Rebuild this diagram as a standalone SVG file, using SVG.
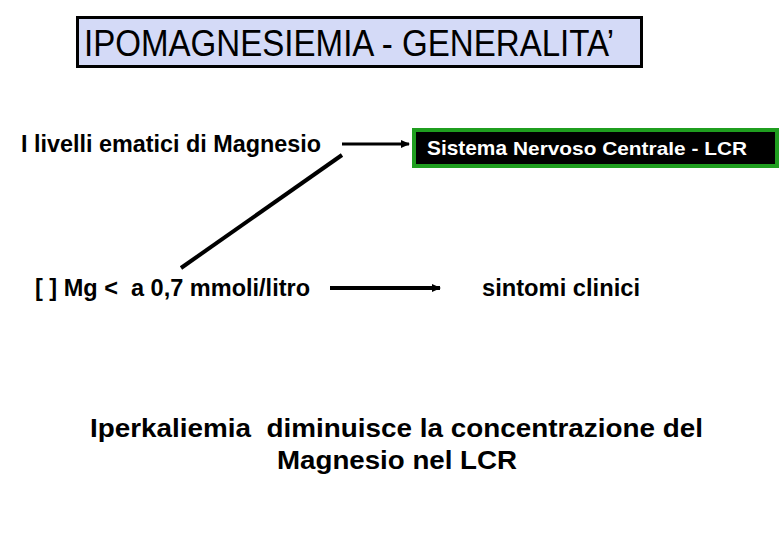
<svg xmlns="http://www.w3.org/2000/svg" width="780" height="540" viewBox="0 0 780 540">
<defs>
<style>
text{font-family:"Liberation Sans",Arial,sans-serif;fill:#000;white-space:pre}
.b{font-weight:bold}
.lbl{font-size:23px}
.conn{stroke:#000;fill:none}
</style>
<marker id="ah" markerUnits="userSpaceOnUse" markerWidth="10" markerHeight="10" refX="8" refY="5" orient="auto">
<path d="M0,1 L9,5 L0,9 Z" fill="#000"/>
</marker>
</defs>
<rect width="780" height="540" fill="#fff"/>
<g id="title">
<rect x="77.5" y="17.5" width="564" height="49" fill="#d4daf7" stroke="#000" stroke-width="3"/>
<text x="84" y="56" font-size="36" textLength="530" lengthAdjust="spacingAndGlyphs">IPOMAGNESIEMIA - GENERALITA’</text>
</g>
<g id="livelli">
<text class="b lbl" x="21" y="152" textLength="300" lengthAdjust="spacingAndGlyphs">I livelli ematici di Magnesio</text>
</g>
<g id="snc">
<rect x="414" y="130" width="363" height="36" fill="#000" stroke="#1f9e1f" stroke-width="4"/>
<text class="b" x="427" y="155" font-size="21" style="fill:#fff" textLength="80" lengthAdjust="spacingAndGlyphs">Sistema</text>
<text class="b" x="513" y="155" font-size="19" style="fill:#fff" textLength="234" lengthAdjust="spacingAndGlyphs">Nervoso Centrale - LCR</text>
</g>
<g id="mg">
<text class="b lbl" x="35" y="296" textLength="275" lengthAdjust="spacingAndGlyphs">[ ] Mg &lt;  a 0,7 mmoli/litro</text>
</g>
<g id="sintomi">
<text class="b lbl" x="482" y="296" textLength="158" lengthAdjust="spacingAndGlyphs">sintomi clinici</text>
</g>
<g id="iperkaliemia">
<text class="b" x="90" y="437" font-size="26" textLength="613" lengthAdjust="spacingAndGlyphs">Iperkaliemia  diminuisce la concentrazione del</text>
<text class="b" x="277" y="469" font-size="26" textLength="240" lengthAdjust="spacingAndGlyphs">Magnesio nel LCR</text>
</g>
<g id="connectors">
<line class="conn" x1="342" y1="144" x2="409" y2="144" stroke-width="3" marker-end="url(#ah)"/>
<line class="conn" x1="342" y1="155" x2="181" y2="268" stroke-width="4"/>
<line class="conn" x1="330" y1="288" x2="440" y2="288" stroke-width="4" marker-end="url(#ah)"/>
</g>
</svg>
